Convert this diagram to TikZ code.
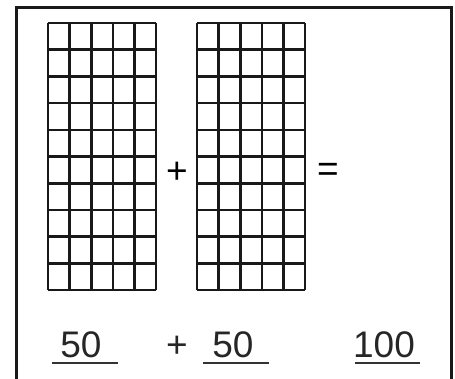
\documentclass[tikz,border=0pt]{standalone}
\usepackage{fontspec}
\setmainfont{Liberation Sans}
\usetikzlibrary{positioning, calc}

\begin{document}
\begin{tikzpicture}[x=1pt, y=-1pt, font=\fontsize{37}{44}\selectfont,
  frameline/.style={line width=3pt, black!90},
  gridline/.style={line width=2.6pt, black!90},
  answerline/.style={line width=1.4pt, black!80},
  numtext/.style={text=black!85, inner sep=0pt, anchor=base}]

  \useasboundingbox (0,0) rectangle (455,378);

  % outer frame (open at the bottom)
  \draw [frameline] (16,380) -- (16,7) -- (451,7) -- (451,380);

  % --- two blocks of 5 x 10 squares ---
  \foreach \gx/\gname in {48/left, 197/right} {
    \coordinate (\gname nw) at (\gx,23);
    \foreach \i in {0,...,5}
      \draw [gridline] ($(\gname nw)+(21.6*\i,0)$) -- ++(0,267);
    \foreach \j in {0,...,10}
      \draw [gridline] ($(\gname nw)+(0,26.7*\j)$) -- ++(108,0);
  }

  % signs between the blocks
  \node [inner sep=0pt] (plus) at (177,172.5) {+};
  \node [inner sep=0pt] (eq) at (328,172.5) {=};

  % --- answer row ---
  \node [numtext] (a) at (81,357) {50};
  \node [numtext] (psign) at (177,357) {+};
  \node [numtext] (b) at (233,357) {50};
  \node [numtext] (sum) at (384,357) {100};

  \coordinate (ua) at ([yshift=-6pt]a.base);
  \coordinate (ub) at ([yshift=-6pt]b.base);
  \coordinate (us) at ([yshift=-6pt]sum.base);
  \draw [answerline] ([xshift=-29pt]ua) -- ([xshift=37pt]ua);
  \draw [answerline] ([xshift=-30pt]ub) -- ([xshift=36pt]ub);
  \draw [answerline] ([xshift=-29pt]us) -- ([xshift=36pt]us);

\end{tikzpicture}
\end{document}
